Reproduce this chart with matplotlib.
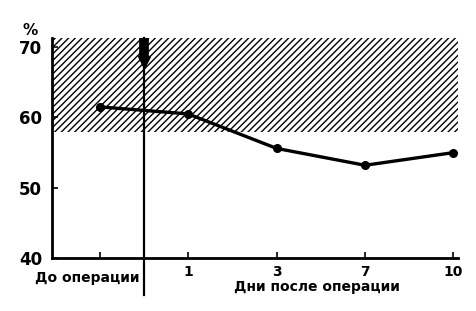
import matplotlib
matplotlib.use('Agg')
import matplotlib.pyplot as plt

categories = ['До операции', '1', '3', '7', '10']
values = [61.5, 60.5, 55.6, 53.2, 55.0]
norm_low, norm_high = 58.0, 71.3
y_ticks = [40, 50, 60, 70]

plt.rcParams['font.family'] = 'DejaVu Sans'
plt.rcParams['font.weight'] = 'bold'
plt.rcParams['hatch.linewidth'] = 1.0

fig = plt.figure(figsize=(4.76, 3.11), dpi=100)
ax = fig.add_axes([0.109, 0.170, 0.853, 0.708])

x = list(range(len(categories)))

# norm zone
ax.axhspan(norm_low, norm_high, facecolor='none', edgecolor='black',
           hatch='/////', linewidth=0)

# operation day marker
ax.plot([0.5, 0.5], [34.7, norm_high], color='black', lw=1.6, clip_on=False)
ax.plot([0.5, 0.5], [norm_high, 68.6], color='black', lw=7, solid_capstyle='butt',
        clip_on=False)
ax.plot([0.5], [67.9], marker='v', color='black', markersize=8, clip_on=False)

ax.plot(x, values, color='black', lw=2.4, marker='o', markersize=5.5)

ax.set_xlim(-0.54, 4.05)
ax.set_ylim(40, norm_high)
ax.set_yticks(y_ticks)
ax.set_xticks(x)
ax.set_xticklabels([''] + categories[1:])
ax.tick_params(axis='both', direction='in', length=4, width=1.2, color='black')
ax.tick_params(axis='y', labelsize=12, pad=7)
ax.tick_params(axis='x', labelsize=10, pad=5)

for side in ['top', 'right']:
    ax.spines[side].set_visible(False)
for side in ['left', 'bottom']:
    ax.spines[side].set_linewidth(2)

ax.text(-0.14, 38.2, 'До операции', ha='center', va='top', fontsize=10,
        fontweight='bold')
ax.text(-0.054, 1.036, '%', transform=ax.transAxes, ha='center', va='center',
        fontsize=11, fontweight='bold')
fig.text(0.666, 0.077, 'Дни после операции', ha='center', va='center',
         fontsize=10, fontweight='bold')

fig.savefig('out.png', dpi=100)
